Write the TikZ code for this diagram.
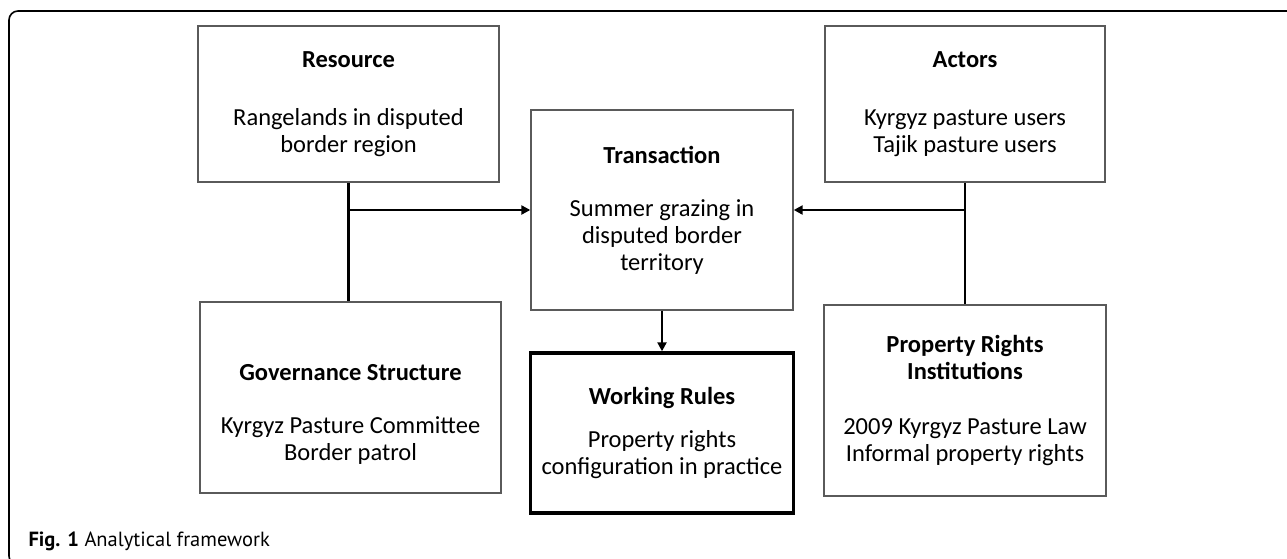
\documentclass[tikz,border=0pt]{standalone}
\usepackage{fontspec}
\setmainfont{Carlito}
\newfontfamily\capfont{PT Sans}
\usetikzlibrary{arrows.meta,positioning}
\definecolor{BoxLine}{HTML}{5A5A5A}
\definecolor{Ink}{HTML}{000000}

\tikzset{
  fwbox/.style={draw=BoxLine,line width=1.4pt,align=center,inner sep=0pt,
    font=\fontsize{24.5}{27}\selectfont,text=Ink},
  mainbox/.style={fwbox,draw=Ink,line width=3.4pt},
  boxtext/.style={align=center,inner sep=0pt,font=\fontsize{24.5}{27}\selectfont,text=Ink},
  link/.style={draw=Ink,line width=2.8pt},
  flow/.style={link,-{Triangle[length=9pt,width=9pt]}}
}

\begin{document}
\begin{tikzpicture}[x=1pt,y=-1pt]
        \useasboundingbox (0,0) rectangle (1287,559);
        % outer frame of the figure
        \draw[line width=1.6pt,rounded corners=9pt]
          (1295,11)--(9,11)--(9,565)--(40,565);

        \node[fwbox,minimum width=301,minimum height=156] (res) at (348.5,104)
          {\textbf{Resource}\\[31pt]Rangelands in disputed\\border region};
        \node[fwbox,minimum width=280,minimum height=156] (act) at (965,104)
          {\textbf{Actors}\\[31pt]Kyrgyz pasture users\\Tajik pasture users};
        \node[fwbox,minimum width=262,minimum height=200] (trans) at (662,210)
          {\textbf{Transaction}\\[26pt]Summer grazing in\\disputed border\\territory};
        \node[fwbox,minimum width=301,minimum height=191] (gov) at (350.5,397.5) {};
        \node[boxtext] (govtext) at ([yshift=-17pt]gov.center)
          {\textbf{Governance Structure}\\[26pt]Kyrgyz Pasture Committee\\Border patrol};
        \node[mainbox,minimum width=263,minimum height=160] (work) at (662,433)
          {\textbf{Working Rules}\\[16pt]Property rights\\configuration in practice};
        \node[fwbox,minimum width=282,minimum height=191] (prop) at (965,400.5)
          {\textbf{Property Rights}\\\textbf{Institutions}\\[28pt]2009 Kyrgyz Pasture Law\\Informal property rights};

        % connectors
        \draw[link] (res.south)--(res.south |- gov.north);
        \draw[flow] (res.south |- trans.west)--(trans.west);
        \draw[link] (act.south)--(act.south |- prop.north);
        \draw[flow] (act.south |- trans.east)--(trans.east);
        \draw[flow] (trans.south)--(work.north);

        \node[anchor=base west,font=\capfont\fontsize{20.5}{24}\selectfont] (cap) at (25,546)
          {\textbf{Fig. 1} Analytical framework};
      \end{tikzpicture}
\end{document}
